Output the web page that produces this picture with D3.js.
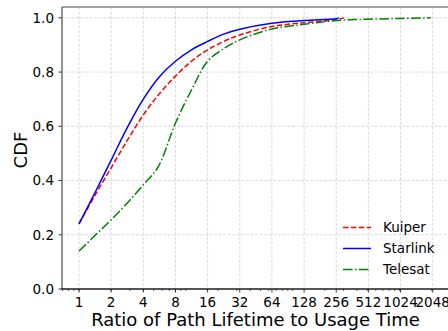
<!DOCTYPE html>
<html>
<head>
<meta charset="utf-8">
<script src="https://cdn.jsdelivr.net/npm/d3@7"></script>
<style>
  body { margin: 0; background: #fff; }
  text { font-family: "DejaVu Sans", sans-serif; fill: #000; }
</style>
</head>
<body>
<div id="chart"></div>
<script>
// values
const starlinkX = [1, 1.41, 2, 2.83, 4, 5.66, 8, 11.3, 16, 22.6, 32, 64, 128, 256, 272];
const starlinkY = [0.24, 0.355, 0.475, 0.595, 0.70, 0.783, 0.84, 0.882, 0.913, 0.94, 0.958, 0.98, 0.99, 0.997, 1.0];
const kuiperX = [1, 1.41, 2, 2.83, 4, 5.66, 8, 11.3, 16, 22.6, 32, 64, 128, 256, 302];
const kuiperY = [0.24, 0.345, 0.447, 0.548, 0.642, 0.72, 0.785, 0.84, 0.882, 0.913, 0.937, 0.968, 0.982, 0.993, 1.0];
const telesatX = [1, 1.41, 2, 2.83, 4, 5.5, 8, 11.3, 16, 22.8, 32, 64, 128, 256, 512, 1024, 1960];
const telesatY = [0.14, 0.197, 0.255, 0.317, 0.384, 0.45, 0.612, 0.734, 0.84, 0.887, 0.919, 0.959, 0.976, 0.99, 0.995, 0.998, 1.0];
const xTicks = [1, 2, 4, 8, 16, 32, 64, 128, 256, 512, 1024, 2048];
const yTicks = [0, 0.2, 0.4, 0.6, 0.8, 1.0];

const width = 448, height = 331;
const mLeft = 62, mTop = 7, mBottom = 289, mRight = 452;

const svg = d3.select("#chart").append("svg")
    .attr("width", width)
    .attr("height", height);

const x = d3.scaleLog().base(2)
    .domain([1, 2048])
    .range([79, 432.7]);
const y = d3.scaleLinear()
    .domain([0, 1.04])
    .range([mBottom, mTop]);

svg.append("defs").append("clipPath").attr("id", "clip")
    .append("rect")
    .attr("x", mLeft).attr("y", mTop)
    .attr("width", mRight - mLeft).attr("height", mBottom - mTop);

// grid
const grid = svg.append("g").attr("stroke", "#d0d0d0").attr("stroke-width", 0.8)
    .attr("stroke-dasharray", "3,1.6");
grid.selectAll(".gx").data(xTicks).enter().append("line")
    .attr("x1", d => x(d)).attr("x2", d => x(d))
    .attr("y1", mTop).attr("y2", mBottom);
grid.selectAll(".gy").data(yTicks).enter().append("line")
    .attr("x1", mLeft).attr("x2", mRight)
    .attr("y1", d => y(d)).attr("y2", d => y(d));

// minor ticks (decade based)
const minor = [];
[0.1, 1, 10, 100, 1000].forEach(p => {
    for (let k = 1; k <= 9; k++) {
        const v = k * p;
        if (x(v) >= mLeft && x(v) <= width) minor.push(v);
    }
});

const series = [
    { name: "Kuiper", xs: kuiperX, ys: kuiperY, color: "#ff0000", dash: "5.5,2.4" },
    { name: "Starlink", xs: starlinkX, ys: starlinkY, color: "#0000ff", dash: null },
    { name: "Telesat", xs: telesatX, ys: telesatY, color: "#008000", dash: "9.6,2.4,1.5,2.4" }
];

const line = d3.line()
    .x(d => x(d[0]))
    .y(d => y(d[1]))
    .curve(d3.curveCatmullRom.alpha(0.5));

const plot = svg.append("g").attr("clip-path", "url(#clip)");
series.forEach(s => {
    plot.append("path")
        .datum(s.xs.map((v, i) => [v, s.ys[i]]))
        .attr("fill", "none")
        .attr("stroke", s.color)
        .attr("stroke-width", 1.5)
        .attr("stroke-dasharray", s.dash)
        .attr("d", line);
});

// axes
const xAxis = svg.append("g").attr("transform", `translate(0,${mBottom})`);
xAxis.selectAll(".minor").data(minor).enter().append("line")
    .attr("x1", d => x(d)).attr("x2", d => x(d))
    .attr("y1", 0).attr("y2", 2)
    .attr("stroke", "#000").attr("stroke-width", 0.6);
xAxis.selectAll(".major").data(xTicks).enter().append("line")
    .attr("x1", d => x(d)).attr("x2", d => x(d))
    .attr("y1", 0).attr("y2", 3.5)
    .attr("stroke", "#000").attr("stroke-width", 0.8);
xAxis.selectAll("text").data(xTicks).enter().append("text")
    .attr("x", d => x(d)).attr("y", 17.5)
    .attr("text-anchor", "middle")
    .style("font-size", "13.5px")
    .text(d => d);

const yAxis = svg.append("g");
yAxis.selectAll("line").data(yTicks).enter().append("line")
    .attr("x1", mLeft - 3.5).attr("x2", mLeft)
    .attr("y1", d => y(d)).attr("y2", d => y(d))
    .attr("stroke", "#000").attr("stroke-width", 0.8);
yAxis.selectAll("text").data(yTicks).enter().append("text")
    .attr("x", mLeft - 8).attr("y", d => y(d))
    .attr("dy", "0.36em")
    .attr("text-anchor", "end")
    .style("font-size", "13.5px")
    .text(d => d.toFixed(1));

// spines
svg.append("line").attr("x1", mLeft).attr("x2", width).attr("y1", mTop).attr("y2", mTop)
    .attr("stroke", "#808080").attr("stroke-width", 1.6);
svg.append("line").attr("x1", mLeft).attr("x2", mLeft).attr("y1", mTop).attr("y2", mBottom)
    .attr("stroke", "#666").attr("stroke-width", 1.4);
svg.append("line").attr("x1", mLeft - 0.7).attr("x2", width).attr("y1", mBottom).attr("y2", mBottom)
    .attr("stroke", "#222").attr("stroke-width", 1.4);

// axis labels
svg.append("text")
    .attr("x", 255.5).attr("y", 326)
    .attr("text-anchor", "middle")
    .style("font-size", "18px")
    .text("Ratio of Path Lifetime to Usage Time");
svg.append("text")
    .attr("transform", "translate(27,150) rotate(-90)")
    .attr("text-anchor", "middle")
    .style("font-size", "18px")
    .text("CDF");

// legend
const legend = svg.append("g");
series.forEach((s, i) => {
    const ly = 227.5 + i * 21;
    legend.append("line")
        .attr("x1", 343).attr("x2", 371)
        .attr("y1", ly).attr("y2", ly)
        .attr("stroke", s.color).attr("stroke-width", 1.5)
        .attr("stroke-dasharray", s.dash);
    legend.append("text")
        .attr("x", 383).attr("y", ly).attr("dy", "0.36em")
        .style("font-size", "13.5px")
        .text(s.name);
});
</script>
</body>
</html>
